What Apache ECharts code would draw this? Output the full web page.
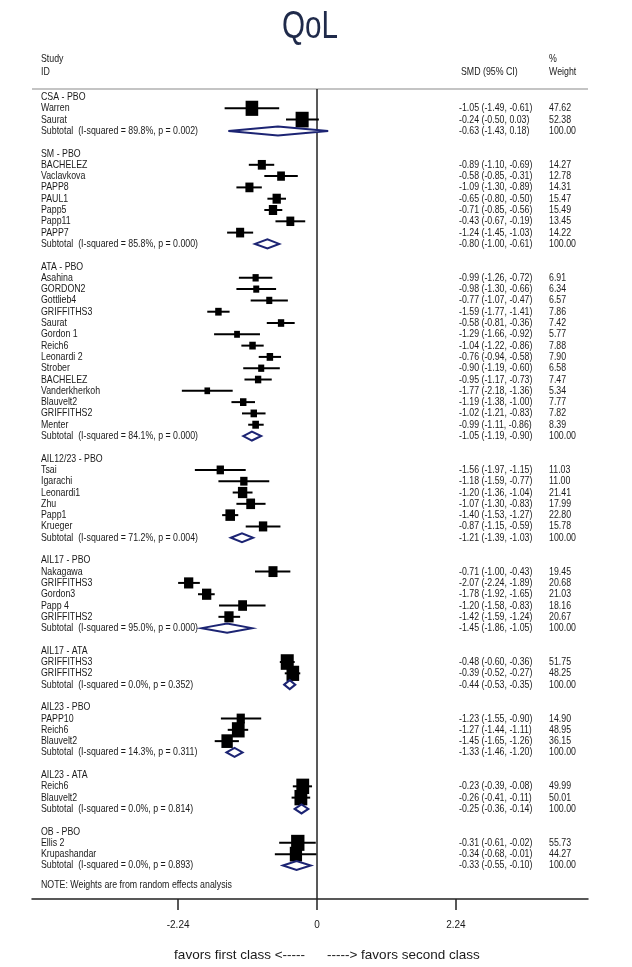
<!DOCTYPE html>
<html><head><meta charset="utf-8">
<script src="https://cdn.jsdelivr.net/npm/echarts@6/dist/echarts.min.js"></script>
<style>html,body{margin:0;padding:0;background:#fff}#c{width:632px;height:967px}</style>
</head><body><div id="c"></div>
<script>
// ---- data (one entry per plotted row; null = no estimate) ----
const rowKinds = [
 'h','s','s','t','b',
 'h','s','s','s','s','s','s','s','t','b',
 'h','s','s','s','s','s','s','s','s','s','s','s','s','s','s','t','b',
 'h','s','s','s','s','s','s','t','b',
 'h','s','s','s','s','s','t','b',
 'h','s','s','t','b',
 'h','s','s','s','t','b',
 'h','s','s','t','b',
 'h','s','s','t'
];
const studyLabels = [
 'CSA - PBO','Warren','Saurat','Subtotal  (I-squared = 89.8%, p = 0.002)','',
 'SM - PBO','BACHELEZ','Vaclavkova','PAPP8','PAUL1','Papp5','Papp11','PAPP7','Subtotal  (I-squared = 85.8%, p = 0.000)','',
 'ATA - PBO','Asahina','GORDON2','Gottlieb4','GRIFFITHS3','Saurat','Gordon 1','Reich6','Leonardi 2','Strober','BACHELEZ','Vanderkherkoh','Blauvelt2','GRIFFITHS2','Menter','Subtotal  (I-squared = 84.1%, p = 0.000)','',
 'AIL12/23 - PBO','Tsai','Igarachi','Leonardi1','Zhu','Papp1','Krueger','Subtotal  (I-squared = 71.2%, p = 0.004)','',
 'AIL17 - PBO','Nakagawa','GRIFFITHS3','Gordon3','Papp 4','GRIFFITHS2','Subtotal  (I-squared = 95.0%, p = 0.000)','',
 'AIL17 - ATA','GRIFFITHS3','GRIFFITHS2','Subtotal  (I-squared = 0.0%, p = 0.352)','',
 'AIL23 - PBO','PAPP10','Reich6','Blauvelt2','Subtotal  (I-squared = 14.3%, p = 0.311)','',
 'AIL23 - ATA','Reich6','Blauvelt2','Subtotal  (I-squared = 0.0%, p = 0.814)','',
 'OB - PBO','Ellis 2','Krupashandar','Subtotal  (I-squared = 0.0%, p = 0.893)'
];
const smd = [
 null,-1.05,-0.24,-0.63,null,
 null,-0.89,-0.58,-1.09,-0.65,-0.71,-0.43,-1.24,-0.80,null,
 null,-0.99,-0.98,-0.77,-1.59,-0.58,-1.29,-1.04,-0.76,-0.90,-0.95,-1.77,-1.19,-1.02,-0.99,-1.05,null,
 null,-1.56,-1.18,-1.20,-1.07,-1.40,-0.87,-1.21,null,
 null,-0.71,-2.07,-1.78,-1.20,-1.42,-1.45,null,
 null,-0.48,-0.39,-0.44,null,
 null,-1.23,-1.27,-1.45,-1.33,null,
 null,-0.23,-0.26,-0.25,null,
 null,-0.31,-0.34,-0.33
];
const ciLow = [
 null,-1.49,-0.50,-1.43,null,
 null,-1.10,-0.85,-1.30,-0.80,-0.85,-0.67,-1.45,-1.00,null,
 null,-1.26,-1.30,-1.07,-1.77,-0.81,-1.66,-1.22,-0.94,-1.19,-1.17,-2.18,-1.38,-1.21,-1.11,-1.19,null,
 null,-1.97,-1.59,-1.36,-1.30,-1.53,-1.15,-1.39,null,
 null,-1.00,-2.24,-1.92,-1.58,-1.59,-1.86,null,
 null,-0.60,-0.52,-0.53,null,
 null,-1.55,-1.44,-1.65,-1.46,null,
 null,-0.39,-0.41,-0.36,null,
 null,-0.61,-0.68,-0.55
];
const ciHigh = [
 null,-0.61,0.03,0.18,null,
 null,-0.69,-0.31,-0.89,-0.50,-0.56,-0.19,-1.03,-0.61,null,
 null,-0.72,-0.66,-0.47,-1.41,-0.36,-0.92,-0.86,-0.58,-0.60,-0.73,-1.36,-1.00,-0.83,-0.86,-0.90,null,
 null,-1.15,-0.77,-1.04,-0.83,-1.27,-0.59,-1.03,null,
 null,-0.43,-1.89,-1.65,-0.83,-1.24,-1.05,null,
 null,-0.36,-0.27,-0.35,null,
 null,-0.90,-1.11,-1.26,-1.20,null,
 null,-0.08,-0.11,-0.14,null,
 null,-0.02,-0.01,-0.10
];
const weightPct = [
 null,47.62,52.38,100.00,null,
 null,14.27,12.78,14.31,15.47,15.49,13.45,14.22,100.00,null,
 null,6.91,6.34,6.57,7.86,7.42,5.77,7.88,7.90,6.58,7.47,5.34,7.77,7.82,8.39,100.00,null,
 null,11.03,11.00,21.41,17.99,22.80,15.78,100.00,null,
 null,19.45,20.68,21.03,18.16,20.67,100.00,null,
 null,51.75,48.25,100.00,null,
 null,14.90,48.95,36.15,100.00,null,
 null,49.99,50.01,100.00,null,
 null,55.73,44.27,100.00
];
const xTicks = [-2.24, 0, 2.24];
const titleText = 'QoL';
const noteText = 'NOTE: Weights are from random effects analysis';
const axisLeftText = 'favors first class <-----';
const axisRightText = '-----> favors second class';

// ---- layout / style ----
const FONT = "'Liberation Sans',Arial,sans-serif";
const NARROW_X = 0.8;
const X_MIN = -4.597, X_MAX = 4.371;
const Y_MIN = -0.708, Y_MAX = 70.97;
const NOTE_ROW = 69.7;
const COL_LABEL = 41, COL_CI = 459, COL_W = 549;
const TXT = '#1a1a1a', NAVY = '#1c2473';
const FS = 11;

const fmt = v => v.toFixed(2);
const markData = [];
const textData = [];
for (let i = 0; i < rowKinds.length; i++) {
  const k = rowKinds[i];
  if (k === 'b') continue;
  textData.push([i]);
  if (k === 's' || k === 't') markData.push([i, k === 's' ? 1 : 2, smd[i], ciLow[i], ciHigh[i], weightPct[i]]);
}
function boxSide(w) { return 6.2 * Math.pow(w / 7, 0.37); }

function renderMark(params, api) {
  const row = api.value(0), kind = api.value(1);
  const c = api.coord([api.value(2), row]);
  const pl = api.coord([api.value(3), row]);
  const ph = api.coord([api.value(4), row]);
  if (kind === 1) {
    const s = boxSide(api.value(5));
    return { type: 'group', children: [
      { type: 'line', shape: { x1: pl[0], y1: c[1], x2: ph[0], y2: c[1] }, style: { stroke: '#000', lineWidth: 2 } },
      { type: 'rect', shape: { x: c[0] - s / 2, y: c[1] - s * 0.6, width: s, height: s * 1.2 }, style: { fill: '#000' } }
    ]};
  }
  return { type: 'polygon', shape: { points: [[pl[0], c[1]], [c[0], c[1] - 4.5], [ph[0], c[1]], [c[0], c[1] + 4.5]] },
           style: { fill: '#fff', stroke: NAVY, lineWidth: 2 } };
}
function txt(x, y, s, align) {
  return { type: 'text', x: x, y: y, scaleX: NARROW_X,
           style: { text: s, fontFamily: FONT, fontSize: FS, fill: TXT, textAlign: align || 'left', textVerticalAlign: 'middle' } };
}
function renderText(params, api) {
  const i = api.value(0);
  const y = api.coord([0, i])[1];
  const ch = [txt(COL_LABEL, y, studyLabels[i])];
  if (smd[i] !== null) {
    ch.push(txt(COL_CI, y, fmt(smd[i]) + ' (' + fmt(ciLow[i]) + ', ' + fmt(ciHigh[i]) + ')'));
    ch.push(txt(COL_W, y, fmt(weightPct[i])));
  }
  return { type: 'group', children: ch };
}
function renderFrame(params, api) {
  if (params.dataIndex !== 0) return null;
  const tl = api.coord([X_MIN, Y_MIN]), tr = api.coord([X_MAX, Y_MIN]);
  const z0 = api.coord([0, Y_MIN]), z1 = api.coord([0, Y_MAX]);
  const h1 = api.coord([0, -3.35])[1], h2 = api.coord([0, -2.2])[1];
  const ny = api.coord([0, NOTE_ROW])[1];
  return { type: 'group', children: [
    { type: 'line', shape: { x1: tl[0], y1: tl[1], x2: tr[0], y2: tr[1] }, style: { stroke: '#c4c4c4', lineWidth: 2 } },
    { type: 'line', shape: { x1: z0[0], y1: z0[1], x2: z1[0], y2: z1[1] }, style: { stroke: '#222', lineWidth: 1.5 } },
    txt(COL_LABEL, h1, 'Study'), txt(COL_LABEL, h2, 'ID'),
    txt(COL_CI + 2, h2, 'SMD (95% CI)'),
    txt(COL_W, h1, '%'), txt(COL_W, h2, 'Weight'),
    txt(COL_LABEL, ny, noteText)
  ]};
}

const chart = echarts.init(document.getElementById('c'), null, { renderer: 'canvas' });
chart.setOption({
  backgroundColor: '#fff',
  animation: false,
  grid: { left: 32, right: 44, top: 89, bottom: 68 },
  xAxis: {
    type: 'value', min: X_MIN, max: X_MAX, position: 'bottom',
    splitLine: { show: false },
    axisLine: { show: true, onZero: false, lineStyle: { color: '#222', width: 1.5 } },
    axisTick: { show: true, customValues: xTicks, length: 11, lineStyle: { color: '#222', width: 1.5 } },
    axisLabel: { customValues: xTicks, margin: 21, fontFamily: FONT, fontSize: 10, color: TXT,
                 formatter: v => (v === 0 ? '0' : v.toFixed(2)) }
  },
  yAxis: { type: 'value', inverse: true, min: Y_MIN, max: Y_MAX, show: false },
  graphic: [
    { type: 'text', x: 310, y: 28, scaleX: 0.78,
      style: { text: titleText, fontFamily: FONT, fontSize: 38, fill: '#1f2a4a', textAlign: 'center', textVerticalAlign: 'middle' } },
    { type: 'text', x: 305, y: 955, style: { text: axisLeftText, fontFamily: FONT, fontSize: 13.5, fill: TXT, textAlign: 'right', textVerticalAlign: 'middle' } },
    { type: 'text', x: 327, y: 955, style: { text: axisRightText, fontFamily: FONT, fontSize: 13.5, fill: TXT, textAlign: 'left', textVerticalAlign: 'middle' } }
  ],
  series: [
    { type: 'custom', name: 'frame', renderItem: renderFrame, data: [[0]], encode: { y: 0 }, silent: true, z: 1 },
    { type: 'custom', name: 'text', renderItem: renderText, data: textData, encode: { y: 0 }, silent: true, z: 2 },
    { type: 'custom', name: 'marks', renderItem: renderMark, data: markData, encode: { x: 2, y: 0 }, z: 3 }
  ]
});
</script></body></html>
